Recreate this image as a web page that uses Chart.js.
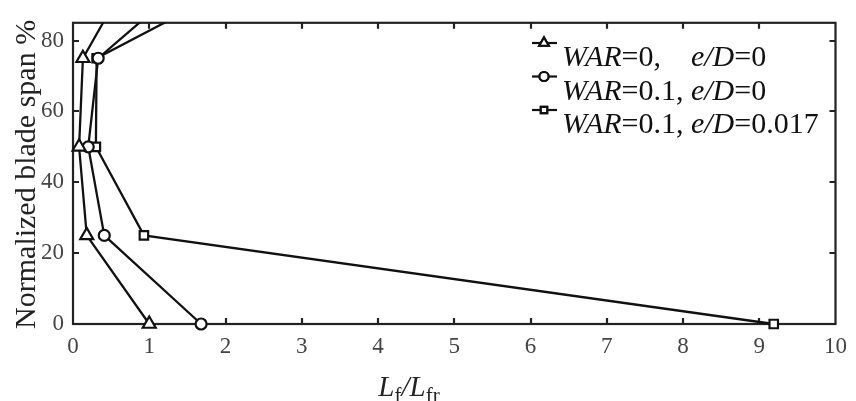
<!DOCTYPE html>
<html>
<head>
<meta charset="utf-8">
<script src="https://cdn.jsdelivr.net/npm/chart.js@4.4.1/dist/chart.umd.min.js"></script>
<style>
html,body{margin:0;padding:0;background:#fff;}
#wrap{width:856px;height:401px;position:relative;}
</style>
</head>
<body>
<div id="wrap"><canvas id="c" width="856" height="401"></canvas></div>
<script>
// Data
const spanLevels = [0, 25, 50, 75, 100];
const war0_ed0 = [1.00, 0.18, 0.08, 0.13, 0.79];
const war01_ed0 = [1.68, 0.41, 0.20, 0.33, 1.68];
const war01_ed017 = [9.19, 0.93, 0.30, 0.31, 2.53];
const seriesLabels = ['WAR=0,    e/D=0', 'WAR=0.1, e/D=0', 'WAR=0.1, e/D=0.017'];
const xTicks = [0,1,2,3,4,5,6,7,8,9,10];
const yTicks = [0,20,40,60,80];
const xTitle = ['L','f','/','L','fr'];
const yTitle = 'Normalized blade span %';

const SERIF = '"Liberation Serif", "Times New Roman", serif';

function pts(xs){ return xs.map((x,i)=>({x:x, y:spanLevels[i]})); }

const styles = ['triangle','circle','rect'];
const radii = [7.5,5.5,6];
const legendRadii = [5.5,4.5,4.5];

const datasets = [war0_ed0, war01_ed0, war01_ed017].map((arr,i)=>({
  label: seriesLabels[i],
  data: pts(arr),
  showLine: true,
  borderColor: '#111',
  borderWidth: 2.3,
  pointStyle: styles[i],
  pointRadius: radii[i],
  pointBorderWidth: 2.2,
  pointBorderColor: '#111',
  pointBackgroundColor: '#fff',
  backgroundColor: '#fff',
  clip: {left: 12, right: 12, top: 0, bottom: 12},
  tension: 0
}));

function drawRich(ctx, text, x, y, size){
  const parts = text.split(/(WAR|e\/D)/).filter(s=>s.length);
  let cx = x;
  parts.forEach(p=>{
    const it = (p==='WAR'||p==='e/D');
    ctx.font = (it?'italic ':'') + size + 'px ' + SERIF;
    ctx.fillText(p, cx, y);
    cx += ctx.measureText(p).width;
  });
}

const framePlugin = {
  id: 'frame',
  beforeDatasetsDraw(chart){
    const ctx = chart.ctx, a = chart.chartArea;
    const xs = chart.scales.x, ys = chart.scales.y;
    ctx.save();
    ctx.strokeStyle = '#222';
    ctx.lineWidth = 2.2;
    ctx.strokeRect(a.left, a.top, a.right - a.left, a.bottom - a.top);
    const tl = 6;
    ctx.beginPath();
    xTicks.forEach(v=>{
      if (v===xs.min || v===xs.max) return;
      const px = Math.round(xs.getPixelForValue(v));
      ctx.moveTo(px, a.bottom); ctx.lineTo(px, a.bottom - tl);
      ctx.moveTo(px, a.top); ctx.lineTo(px, a.top + tl);
    });
    yTicks.forEach(v=>{
      if (v===ys.min || v===ys.max) return;
      const py = Math.round(ys.getPixelForValue(v));
      ctx.moveTo(a.left, py); ctx.lineTo(a.left + tl, py);
      ctx.moveTo(a.right, py); ctx.lineTo(a.right - tl, py);
    });
    ctx.stroke();
    ctx.restore();
  },
  afterDraw(chart){
    const ctx = chart.ctx, a = chart.chartArea;
    ctx.save();
    ctx.fillStyle = '#222';
    ctx.textBaseline = 'alphabetic';
    // y title
    ctx.save();
    ctx.translate(35, (a.top + a.bottom)/2 + 1);
    ctx.rotate(-Math.PI/2);
    ctx.font = '30px ' + SERIF;
    ctx.textAlign = 'center';
    ctx.fillText(yTitle, 0, 0);
    ctx.restore();

    // x title with subscripts
    ctx.textAlign = 'left';
    const bigF = 'italic 29px ' + SERIF;
    const subF = '21px ' + SERIF;
    const segs = [
      {t:xTitle[0], f:bigF, dy:0},
      {t:xTitle[1], f:subF, dy:6},
      {t:xTitle[2], f:bigF, dy:0},
      {t:xTitle[3], f:bigF, dy:0},
      {t:xTitle[4], f:subF, dy:6}
    ];
    let w = 0;
    segs.forEach(s=>{ ctx.font = s.f; w += ctx.measureText(s.t).width; });
    let cx = 409 - w/2;
    segs.forEach(s=>{ ctx.font = s.f; ctx.fillText(s.t, cx, 396 + s.dy); cx += ctx.measureText(s.t).width; });

    // Legend
    const lx0 = 532, lx1 = 557, mx = 544, tx = 562;
    const baselines = [66, 99.5, 133];
    const size = 30;
    let edX = null;
    (function(){
      const parts = seriesLabels[1].split(/(WAR|e\/D)/).filter(s=>s.length);
      let px = tx;
      for (const p of parts){
        const it = (p==='WAR'||p==='e/D');
        ctx.font = (it?'italic ':'') + size + 'px ' + SERIF;
        if (p==='e/D'){ edX = px; break; }
        px += ctx.measureText(p).width;
      }
    })();
    chart.data.datasets.forEach((ds,i)=>{
      const by = baselines[i];
      const my = by - 23;
      ctx.strokeStyle = '#111';
      ctx.lineWidth = 2.2;
      ctx.beginPath(); ctx.moveTo(lx0, my); ctx.lineTo(lx1, my); ctx.stroke();
      ctx.fillStyle = '#fff';
      Chart.helpers.drawPoint(ctx, {pointStyle: ds.pointStyle, radius: legendRadii[i], borderWidth: 2}, mx, my);
      ctx.fill(); ctx.stroke();
      ctx.fillStyle = '#111';
      if (i===0){
        const label = ds.label;
        const idx = label.indexOf('e/D');
        drawRich(ctx, label.slice(0, idx).trimEnd(), tx, by, size);
        drawRich(ctx, label.slice(idx), edX, by, size);
      } else {
        drawRich(ctx, ds.label, tx, by, size);
      }
    });
    ctx.restore();
  }
};

new Chart(document.getElementById('c'), {
  type: 'scatter',
  data: { datasets },
  options: {
    responsive: false,
    animation: false,
    devicePixelRatio: 1,
    layout: { padding: { top: 16, right: 13, left: 0, bottom: 0 } },
    plugins: { legend: { display: false }, tooltip: { enabled: false } },
    scales: {
      x: {
        type: 'linear', min: 0, max: 10,
        afterFit(s){ s.height = 77; },
        afterBuildTicks(s){ s.ticks = xTicks.map(v=>({value:v})); },
        grid: { display: true, drawOnChartArea: false, drawTicks: false, color: 'rgba(0,0,0,0)' },
        border: { display: false },
        ticks: { padding: 9, color: '#444', font: { family: SERIF, size: 23 }, maxRotation: 0, autoSkip: false }
      },
      y: {
        type: 'linear', min: 0, max: 85,
        afterFit(s){ s.width = 73; },
        afterBuildTicks(s){ s.ticks = yTicks.map(v=>({value:v})); },
        grid: { display: true, drawOnChartArea: false, drawTicks: false, color: 'rgba(0,0,0,0)' },
        border: { display: false },
        ticks: { padding: 9, color: '#444', font: { family: SERIF, size: 23 }, autoSkip: false }
      }
    }
  },
  plugins: [framePlugin]
});
</script>
</body>
</html>
